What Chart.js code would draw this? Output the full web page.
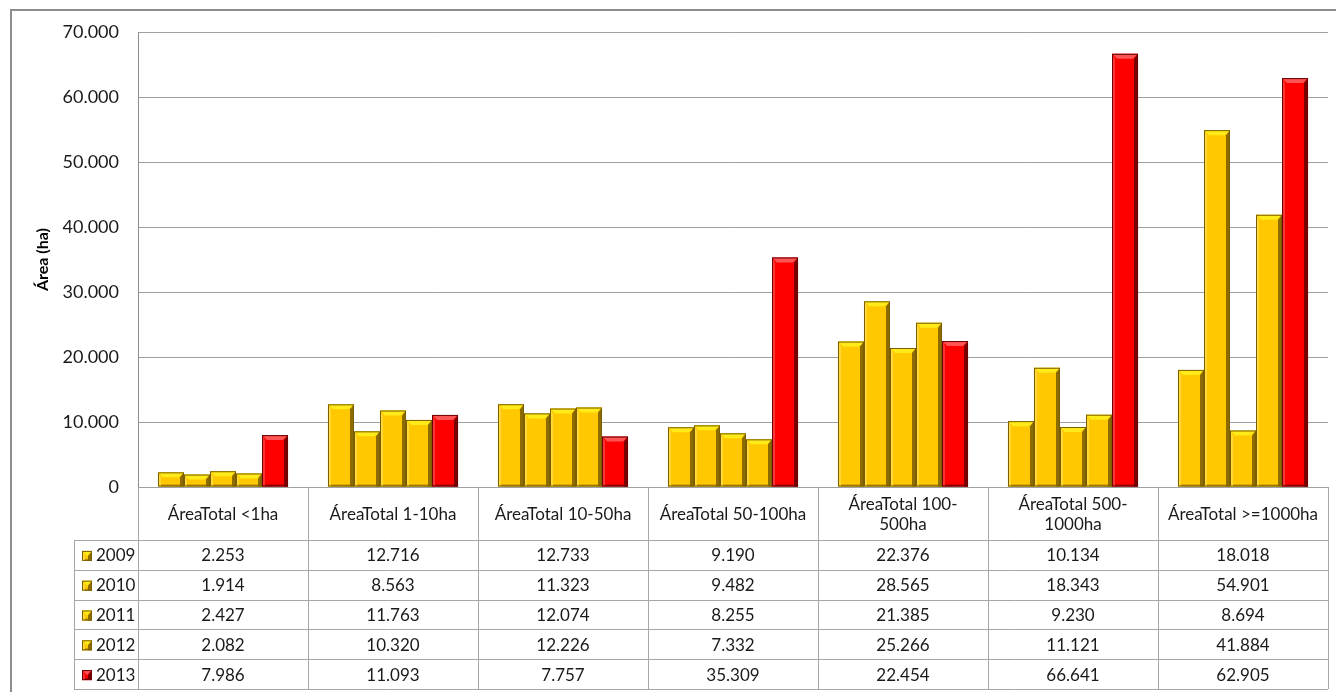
<!DOCTYPE html>
<html>
<head>
<meta charset="utf-8">
<script src="https://cdn.jsdelivr.net/npm/chart.js@4/dist/chart.umd.min.js"></script>
<style>
  html, body { margin: 0; padding: 0; background: #fff; }
  #wrap { width: 1336px; height: 692px; }
</style>
</head>
<body>
<div id="wrap"><canvas id="areaChart" width="1336" height="692"></canvas></div>
<script>
// ===================== DATA =====================
const categories = [
  ['ÁreaTotal <1ha'],
  ['ÁreaTotal 1-10ha'],
  ['ÁreaTotal 10-50ha'],
  ['ÁreaTotal 50-100ha'],
  ['ÁreaTotal 100-', '500ha'],
  ['ÁreaTotal 500-', '1000ha'],
  ['ÁreaTotal >=1000ha']
];
const years = ['2009', '2010', '2011', '2012', '2013'];
const area2009 = [2253, 12716, 12733, 9190, 22376, 10134, 18018];
const area2010 = [1914, 8563, 11323, 9482, 28565, 18343, 54901];
const area2011 = [2427, 11763, 12074, 8255, 21385, 9230, 8694];
const area2012 = [2082, 10320, 12226, 7332, 25266, 11121, 41884];
const area2013 = [7986, 11093, 7757, 35309, 22454, 66641, 62905];
const yTicks = [0, 10000, 20000, 30000, 40000, 50000, 60000, 70000];

const seriesValues = [area2009, area2010, area2011, area2012, area2013];

// colours per series: main, top bevel, left bevel, right shade, bottom shade, outline
const GOLD = { main: '#FFC800', top: '#FFEB1A', left: '#FFD83A', right: '#8C6C00', bottom: '#B88E00', line: '#7A5E00' };
const RED = { main: '#FF0000', top: '#FF5454', left: '#FF3434', right: '#7A0000', bottom: '#B00000', line: '#6A0000' };
const palette = [GOLD, GOLD, GOLD, GOLD, RED];

const FONT = 'Lato, "DejaVu Sans", sans-serif';

// 70000 -> "70.000"
function fmt(v) {
  return String(Math.round(v)).replace(/\B(?=(\d{3})+(?!\d))/g, '.');
}

// ===================== PLUGINS =====================
const frame = {
  id: 'frame',
  beforeDraw(chart) {
    const c = chart.ctx;
    c.save();
    c.fillStyle = '#fff';
    c.fillRect(0, 0, chart.width, chart.height);
    c.strokeStyle = '#8C8C8C';
    c.lineWidth = 2;
    c.beginPath();
    c.moveTo(11, chart.height);
    c.lineTo(11, 10);
    c.lineTo(chart.width, 10);
    c.stroke();
    c.restore();
  }
};

function bevelBox(c, left, top, right, bottom, col) {
  const h = bottom - top;
  const b = Math.min(5, h / 2);
  const s = Math.min(2, h / 4);
  // bottom shade
  c.fillStyle = col.bottom;
  c.fillRect(left, bottom - s, right - left, s);
  // top face
  c.fillStyle = col.top;
  c.beginPath();
  c.moveTo(left, top);
  c.lineTo(right, top);
  c.lineTo(right - b, top + b);
  c.lineTo(left + b, top + b);
  c.closePath();
  c.fill();
  // left highlight
  c.fillStyle = col.left;
  c.beginPath();
  c.moveTo(left, top);
  c.lineTo(left + 3, top + b);
  c.lineTo(left + 3, bottom);
  c.lineTo(left, bottom);
  c.closePath();
  c.fill();
  // right shade
  c.fillStyle = col.right;
  c.beginPath();
  c.moveTo(right, top);
  c.lineTo(right - 4, top + b);
  c.lineTo(right - 4, bottom);
  c.lineTo(right, bottom);
  c.closePath();
  c.fill();
  c.strokeStyle = col.line;
  c.lineWidth = 1;
  c.strokeRect(left + 0.5, top + 0.5, right - left - 1, bottom - top - 1);
}

const bevel = {
  id: 'bevel',
  afterDatasetsDraw(chart) {
    const c = chart.ctx;
    c.save();
    chart.data.datasets.forEach((ds, i) => {
      const meta = chart.getDatasetMeta(i);
      meta.data.forEach(bar => {
        const p = bar.getProps(['x', 'y', 'width', 'base'], true);
        bevelBox(c, p.x - p.width / 2, p.y, p.x + p.width / 2, p.base, palette[i]);
      });
    });
    c.restore();
  }
};

const dataTable = {
  id: 'dataTable',
  afterDraw(chart) {
    const c = chart.ctx;
    const x = chart.scales.x;
    const area = chart.chartArea;
    const colW = (x.right - x.left) / categories.length;
    const headTop = area.bottom;
    const headBottom = headTop + 53;
    const rowH = 29.8;
    const labelLeft = 74;
    const tableBottom = headBottom + rowH * years.length;

    c.save();
    c.strokeStyle = '#A6A6A6';
    c.lineWidth = 1;
    c.beginPath();
    // column separators
    for (let i = 0; i <= categories.length; i++) {
      const px = Math.round(x.left + colW * i) + 0.5;
      c.moveTo(px, headTop);
      c.lineTo(px, tableBottom);
    }
    // row lines
    for (let r = 0; r <= years.length; r++) {
      const py = Math.round(headBottom + rowH * r) + 0.5;
      c.moveTo(labelLeft, py);
      c.lineTo(x.right, py);
    }
    c.moveTo(labelLeft + 0.5, headBottom);
    c.lineTo(labelLeft + 0.5, tableBottom);
    c.stroke();

    c.fillStyle = '#1a1a1a';
    c.font = '17px ' + FONT;
    c.textAlign = 'center';
    c.textBaseline = 'middle';
    // header
    categories.forEach((lines, i) => {
      const cx = x.getPixelForValue(i);
      const midY = (headTop + headBottom) / 2 + 1;
      lines.forEach((t, k) => {
        c.fillText(t, cx, midY + (k - (lines.length - 1) / 2) * 20);
      });
    });
    // rows
    seriesValues.forEach((vals, r) => {
      const cy = headBottom + rowH * r + rowH / 2 + 1;
      vals.forEach((v, i) => {
        c.fillText(fmt(v), x.getPixelForValue(i), cy);
      });
      // legend key
      const col = palette[r];
      c.save();
      c.fillStyle = col.main;
      c.fillRect(82, cy - 5, 10, 10);
      bevelBox(c, 82, cy - 5, 92, cy + 5, col);
      c.restore();
      c.textAlign = 'left';
      c.fillText(years[r], 96, cy);
      c.textAlign = 'center';
    });
    c.restore();
  }
};

// ===================== CHART =====================
const ctx = document.getElementById('areaChart').getContext('2d');
const areaChart = new Chart(ctx, {
  type: 'bar',
  data: {
    labels: categories,
    datasets: years.map((y, i) => ({
      label: y,
      data: seriesValues[i],
      backgroundColor: palette[i].main,
      borderWidth: 0,
      barPercentage: 1,
      categoryPercentage: 0.765
    }))
  },
  options: {
    responsive: false,
    animation: false,
    events: [],
    layout: { padding: { top: 32, right: 8, bottom: 205, left: 33 } },
    plugins: {
      legend: { display: false },
      tooltip: { enabled: false }
    },
    scales: {
      x: { display: false },
      y: {
        min: 0,
        max: 70000,
        afterBuildTicks(scale) {
          scale.ticks = yTicks.map(v => ({ value: v }));
        },
        afterFit(scale) { scale.width = 105; },
        grid: { color: '#A0A0A0', drawTicks: false, lineWidth: 1 },
        border: { display: true, color: '#8C8C8C' },
        ticks: {
          padding: 19,
          color: '#1a1a1a',
          font: { family: FONT, size: 18 },
          callback: v => fmt(v)
        },
        title: {
          display: true,
          text: 'Área (ha)',
          color: '#000',
          font: { family: FONT, size: 16, weight: 'bold' },
          padding: 0
        }
      }
    }
  },
  plugins: [frame, bevel, dataTable]
});
</script>
</body>
</html>
